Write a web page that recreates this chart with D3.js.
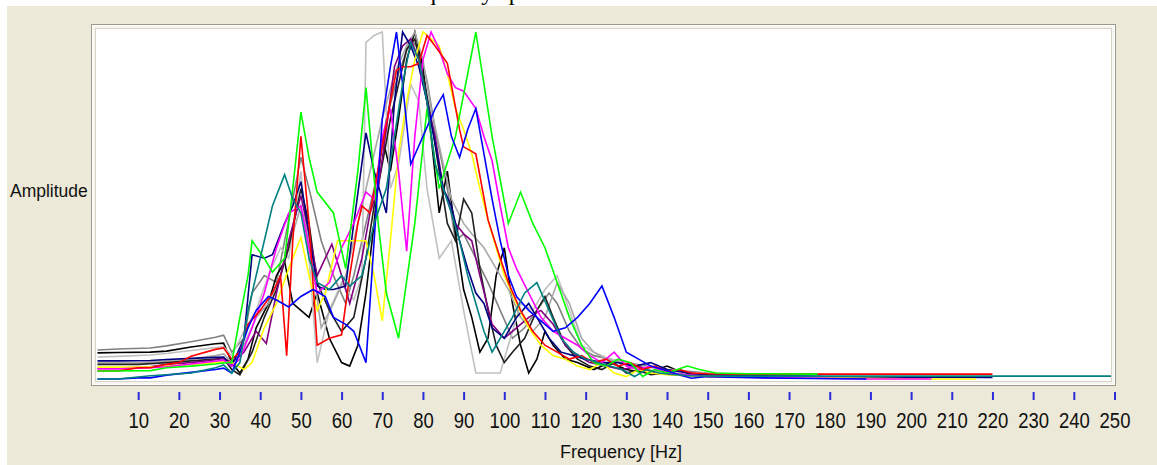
<!DOCTYPE html>
<html><head><meta charset="utf-8">
<script src="https://cdn.jsdelivr.net/npm/d3@7"></script>
<style>html,body{margin:0;padding:0;background:#fff;} svg{display:block}</style>
</head><body>
<script>
// ---------- DATA ----------
const titleText = "Frequency spectrum";
const yLabel = "Amplitude";
const xLabel = "Frequency [Hz]";
const tickValues = [10,20,30,40,50,60,70,80,90,100,110,120,130,140,150,160,170,180,190,200,210,220,230,240,250];

// each series: [frequency (Hz), amplitude (0-100)]
const sDarkGray = [[0,8.6],[5,8.9],[13,9.2],[17,9.8],[23,11],[29,12.3],[31,12.9],[33,8],[36,12],[38,25],[41,30],[44,28],[47,46],[50,64],[52,55],[55,40],[58,30],[61,22],[63,30],[66,45],[69,60],[71,75],[74,88],[77,98],[79,95],[81,86],[83,72],[86,55],[88,40],[90,42],[93,35],[96,28],[99,20],[102,12],[105,15],[108,20],[111,25],[113,22],[116,14],[119,9],[122,7],[126,6],[130,5],[135,4],[140,3],[145,2.5],[150,2],[160,1.5],[175,1]];
const sBlack = [[0,7.8],[5,7.9],[13,8.0],[17,8.3],[23,9.5],[29,10.4],[31,10.6],[33,5],[35,2],[37,6],[39,15],[42,22],[44,30],[46,34],[48,22],[50,20],[52,18],[54,25],[57,12],[60,5],[62,4],[64,10],[66,25],[68,45],[70,70],[72,60],[74,75],[76,92],[78,100],[80,90],[82,70],[84,48],[86,60],[88,42],[90,26],[92,18],[94,8],[96,12],[98,30],[100,38],[102,22],[104,10],[106,2],[108,6],[110,14],[112,10],[115,6],[118,5],[122,3],[126,5],[130,3],[135,2],[140,4],[142,3],[145,2],[150,1.5],[160,1.2],[178,1]];
const sSilver = [[0,6.6],[5,6.8],[13,7.2],[17,7.6],[23,8.5],[29,9.3],[31,9.5],[33,7],[36,14],[39,20],[42,30],[45,38],[47,35],[50,60],[52,35],[54,5],[57,20],[60,28],[63,23],[65,30],[66,97],[68,99],[70,100],[72,55],[74,62],[77,85],[79,80],[81,55],[84,35],[87,40],[90,20],[93,2],[96,2],[99,2],[101,10],[104,22],[107,20],[110,26],[113,30],[116,20],[119,10],[122,8],[126,6],[130,5],[134,4],[138,3],[142,3],[146,2],[150,2],[160,1.5],[172,1]];
const sLightGray = [[0,5],[10,5],[17,5.5],[23,6],[29,7],[31,7.5],[33,5],[36,10],[39,18],[42,22],[45,30],[48,42],[50,50],[52,40],[55,15],[58,22],[61,30],[64,45],[67,60],[70,75],[73,88],[76,96],[78,100],[80,92],[82,78],[85,62],[87,52],[90,45],[92,42],[95,38],[98,32],[101,26],[104,18],[107,14],[110,18],[113,28],[116,22],[119,12],[122,8],[125,6],[128,5],[131,4],[134,3],[138,2.5],[142,2],[146,1.5],[150,1.2],[160,1],[170,0.9]];
const sBlack2 = [[0,4.5],[10,4.5],[17,5],[23,5.5],[29,6],[31,6.2],[33,3],[35,1.5],[38,8],[41,18],[44,26],[47,38],[50,55],[52,45],[54,28],[57,20],[60,14],[63,18],[66,35],[68,50],[70,62],[72,75],[74,85],[76,95],[78,98],[80,88],[82,75],[84,60],[86,45],[88,40],[90,52],[92,48],[94,32],[96,20],[98,10],[100,5],[102,8],[105,12],[108,20],[110,24],[112,18],[115,10],[118,6],[121,4],[124,3],[127,5],[130,2],[133,3],[136,1.5],[140,2],[143,3],[146,1.5],[150,1],[160,0.9],[165,0.8]];
const sPurple = [[0,3.4],[5,3.4],[13,3.8],[17,4.5],[23,5],[29,5.8],[31,6.3],[33,5],[36,8],[39,14],[41.5,10.5],[44,25],[47,40],[50,53],[52,42],[54,30],[56,35],[57.6,39],[60,30],[62,22],[65,35],[67,48],[69,55],[71,72],[73,90],[75,96],[77,98],[79,92],[81,80],[83,70],[85,55],[88,45],[90,42],[92,40],[94,30],[97,16],[100,12],[103,15],[106,18],[109,20],[112,16],[115,10],[118,7],[121,5],[125,4],[129,3],[133,4],[137,2],[141,1.5],[145,1.2],[150,1],[160,0.9],[180,0.8]];
const sNavy = [[0,5.5],[5,5.5],[13,5.6],[17,5.9],[23,6.2],[29,6.5],[31,6.6],[33,4],[36,12],[38,36],[41,35],[43,36],[46,45],[48,50],[50,57],[52,42],[54,27],[56,26],[58,26],[61,27],[63,45],[66,71],[68,60],[71,48],[73,80],[75,100],[77,96],[79,90],[81,80],[83,68],[85,55],[87,50],[89,40],[91,32],[93,25],[95,22],[97,15],[100,12],[103,18],[106,22],[108,18],[111,12],[114,8],[117,7],[120,6],[124,5],[128,5],[132,4],[136,5],[140,3],[145,2],[150,1.5],[160,1.3],[180,0.9],[220,0.7]];
const sYellow = [[0,3.7],[5,3.7],[13,3.7],[17,4],[23,4.5],[29,5],[31,5.2],[33,5],[36,3],[38,5],[41,15],[44,22],[47,32],[50,41],[52,30],[54,20],[56,25],[59,40],[62,40],[66,40],[68,30],[70,17],[72,40],[74,65],[76,80],[78,92],[80,100],[82,98],[84,96],[86,88],[88,78],[90,72],[92,65],[94,55],[96,46],[98,38],[100,30],[103,22],[106,15],[109,10],[112,7],[115,6],[118,4],[121,3],[124,5],[127,2],[130,1],[133,3],[136,2],[140,1.5],[145,1.2],[150,1],[160,0.8],[205,0.3],[216,0.3]];
const sMagenta = [[0,3.2],[5,3.2],[13,3.5],[17,3.8],[23,4.6],[29,5.4],[31,5.7],[33,4],[35,6],[38,15],[41,25],[44,38],[47,48],[50,50],[52,38],[54,25],[57,28],[60,38],[63,45],[66,54],[68,52],[70,70],[72,78],[74,60],[76,37],[78,70],[80,92],[82,100],[84,95],[86,88],[88,84],[90,83],[93,78],[95,70],[97,63],[99,50],[101,38],[103,32],[106,25],[109,18],[112,14],[115,12],[118,10],[121,7],[124,5],[127,8],[130,4],[133,3],[136,4],[140,2],[145,1.5],[150,1],[160,0.8],[189,0.3],[205,0.3]];
const sRed = [[0,2.6],[5,2.6],[10,3.5],[13,3.5],[17,4.5],[20,5],[23,6.8],[29,8.8],[31,9.2],[33,6],[35,8],[37,16],[40,20],[43,25],[45,30],[46.5,7],[48,40],[50,70],[52,45],[54,10],[57,12],[60,13],[62,30],[64,45],[65,50],[67,48],[70,67],[72,80],[73.5,89],[75,90],[77,90],[79,91],[81,99],[83,96],[86,91],[89,72],[90,67],[93,65],[96,46],[99,35],[101,28],[104,20],[107,14],[110,10],[113,8],[116,6],[119,7],[122,5],[125,6],[128,4],[131,5],[134,3],[137,4],[140,2.5],[143,3],[146,2],[150,1.8],[160,1.7],[177,1.7],[220,1.7]];
const sGreen = [[0,2.6],[5,2.6],[13,2.7],[17,3.5],[23,4],[29,4.6],[31,4.9],[33,5],[35,18],[37,30],[38,40],[41,35],[43,31],[46,35],[48,55],[50,77],[52,64],[54,54],[58,48],[61,32],[64,60],[66,84],[69,45],[71,25],[74,12],[78,45],[81,78],[84,55],[88,70],[93,100],[97,70],[101,45],[104,54],[107,45],[110,38],[113,28],[116,18],[119,10],[122,5],[125,4],[128,6],[131,5],[134,1],[137,3],[140,2],[145,4],[148,3],[152,2],[160,1.8],[177,1.7]];
const sBlue = [[0,0.3],[5,0.3],[10,0.6],[13,0.6],[17,1.4],[23,2.2],[29,3],[31,3.4],[33,2],[35,8],[37,15],[39,20],[42,24],[44,23],[47,21],[50,24],[53,26],[56,24],[58,18],[61,16],[63,14],[66,5],[68,40],[70,75],[72,90],[73.5,100],[75,85],[77,62],[80,70],[83,78],[85,82],[87,70],[89,64],[91,72],[93,78],[95,65],[97,52],[99,40],[101,30],[103,24],[106,20],[109,17],[112,14],[115,15],[118,18],[121,22],[124,27],[127,18],[130,8],[133,6],[136,4],[139,3],[143,1.5],[146,0.5],[150,1],[155,0.8],[169,0.5],[189,0.3]];
const sTeal = [[0,0.3],[5,0.3],[13,1.2],[17,1.5],[23,2],[29,3.5],[31,4.3],[33,2],[35,5],[37,20],[40,35],[43,50],[46,59],[48,52],[50,48],[52,35],[54,28],[57,26],[60,30],[62,27],[65,30],[68,45],[71,55],[73,70],[75,85],[77,97],[79,92],[81,80],[83,62],[85,55],[87,48],[89,40],[91,30],[93,22],[95,14],[97,8],[99,12],[102,18],[105,25],[108,28],[111,20],[114,12],[117,8],[120,6],[123,5],[126,4],[129,3],[132,1],[135,3],[138,2],[142,1.5],[146,1.2],[150,1.1],[160,1.1],[250,1.1]];

const seriesData   = [sDarkGray, sBlack, sSilver, sLightGray, sBlack2, sPurple, sNavy, sYellow, sMagenta, sRed, sGreen, sBlue, sTeal];
const seriesColors = ["#808080","#000000","#C0C0C0","#A8A8A8","#202020","#800080","#000080","#FFFF00","#FF00FF","#FF0000","#00FF00","#0000FF","#008080"];

// ---------- DRAW ----------
const W = 1157, H = 465;
const svg = d3.select("body").append("svg").attr("width", W).attr("height", H);

// page + panel background
svg.append("rect").attr("x", 7).attr("y", 6).attr("width", W - 7).attr("height", H - 6).attr("fill", "#ECE9D8");

// title (cut off at top)
svg.append("text").attr("x", 392).attr("y", 0)
  .attr("font-family", "Liberation Serif, Times New Roman, serif").attr("font-size", 24)
  .attr("fill", "#000").text(titleText);

// plot frame
svg.append("rect").attr("x", 91.5).attr("y", 24.5).attr("width", 1024).attr("height", 361)
  .attr("fill", "#F6F5EF").attr("stroke", "#9C998C");
svg.append("rect").attr("x", 92.5).attr("y", 25.5).attr("width", 1022).attr("height", 359)
  .attr("fill", "none").attr("stroke", "#FFFFFF");
svg.append("rect").attr("x", 95.5).attr("y", 28.5).attr("width", 1016).attr("height", 353)
  .attr("fill", "#FFFFFF").attr("stroke", "#D6D3C6");

const x = d3.scaleLinear().domain([0, 250]).range([97.5, 1114.5]);
const y = d3.scaleLinear().domain([0, 100]).range([380, 32]);

svg.append("clipPath").attr("id", "plotclip").append("rect")
  .attr("x", 96).attr("y", 29).attr("width", 1015).attr("height", 352);

const line = d3.line().x(d => x(d[0])).y(d => y(d[1]));
const gLines = svg.append("g").attr("clip-path", "url(#plotclip)");
seriesData.forEach((s, i) => {
  gLines.append("path").attr("d", line(s)).attr("fill", "none")
    .attr("stroke", seriesColors[i]).attr("stroke-width", 1.6).attr("stroke-linejoin", "miter");
});

// x axis
const axis = d3.axisBottom(x).tickValues(tickValues).tickSize(8).tickPadding(0).tickFormat(d3.format("d"));
const gx = svg.append("g").attr("transform", "translate(0,392)").call(axis);
gx.attr("font-family", "Liberation Sans, Arial, sans-serif").attr("font-size", 18.5);
gx.select(".domain").remove();
gx.selectAll(".tick line").attr("stroke", "#2b2bd9").attr("stroke-width", 2);
gx.selectAll(".tick text").attr("y", 30).attr("dy", null)
  .attr("transform", "scale(1,1.2)").attr("fill", "#111");

// axis titles
svg.append("text").attr("x", 560).attr("y", 458)
  .attr("font-family", "Liberation Sans, Arial, sans-serif").attr("font-size", 18)
  .attr("fill", "#111").text(xLabel);
svg.append("text").attr("x", 10).attr("y", 197)
  .attr("font-family", "Liberation Sans, Arial, sans-serif").attr("font-size", 17.5)
  .attr("fill", "#111").text(yLabel);
</script>
</body></html>
